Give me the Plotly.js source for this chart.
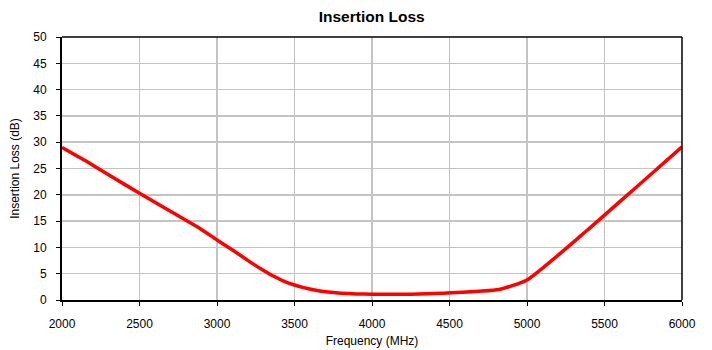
<!DOCTYPE html>
<html>
<head>
<meta charset="utf-8">
<script src="https://cdn.plot.ly/plotly-3.0.1.min.js"></script>
<style>html,body{margin:0;padding:0;background:#fff;}#chart{width:712px;height:350px;}</style>
</head>
<body>
<div id="chart"></div>
<script>
var freqMHz = [2000, 2150, 2300, 2500, 2750, 2890, 3000, 3110, 3210, 3290, 3360, 3430, 3500, 3560, 3620, 3700, 3800, 3900, 4000, 4250, 4450, 4820, 5000, 5390, 5610, 5800, 6000];
var lossDB  = [29.0, 26.5, 23.8, 20.3, 16.0, 13.6, 11.4, 9.3, 7.3, 5.8, 4.6, 3.6, 2.85, 2.35, 1.95, 1.55, 1.3, 1.15, 1.1, 1.1, 1.3, 2.0, 3.8, 13.3, 19.0, 23.9, 29.1];
var xTicks = [2000, 2500, 3000, 3500, 4000, 4500, 5000, 5500, 6000];
var yTicks = [0, 5, 10, 15, 20, 25, 30, 35, 40, 45, 50];

var font = {family: 'Liberation Sans, Arial, sans-serif', color: '#000', size: 12};

var trace = {
  x: freqMHz, y: lossDB, type: 'scatter', mode: 'lines',
  line: {color: '#ff0000', width: 3.5, shape: 'spline', smoothing: 0.5},
  hoverinfo: 'skip'
};

var layout = {
  width: 712, height: 350,
  margin: {l: 62, r: 30, t: 37, b: 50},
  paper_bgcolor: '#fff', plot_bgcolor: '#fff',
  font: font,
  showlegend: false,
  title: {text: '<b>Insertion Loss</b>', font: {family: font.family, size: 15.5, color: '#000'}, x: 0.522, xanchor: 'center', y: 0.953, yanchor: 'middle'},
  xaxis: {
    range: [2000, 6000], tickvals: xTicks, ticktext: xTicks.map(String),
    showgrid: true, gridcolor: '#c4c4c4', gridwidth: 1.5,
    showline: true, linecolor: '#000', linewidth: 2, mirror: false,
    ticks: 'outside', ticklen: 4, tickcolor: '#000', tickwidth: 1,
    ticklabelstandoff: 8,
    tickfont: font, zeroline: false,
    title: {text: 'Frequency (MHz)', font: font, standoff: 6}
  },
  yaxis: {
    range: [0, 50], tickvals: yTicks, ticktext: yTicks.map(String),
    showgrid: true, gridcolor: '#c4c4c4', gridwidth: 1.5,
    showline: true, linecolor: '#000', linewidth: 2, mirror: false,
    ticks: 'outside', ticklen: 4, tickcolor: '#000', tickwidth: 1,
    ticklabelstandoff: 7,
    tickfont: font, zeroline: false,
    title: {text: 'Insertion Loss (dB)', font: font, standoff: 11}
  },
  shapes: [
    {type: 'line', xref: 'paper', yref: 'paper', x0: 0, x1: 1, y0: 1, y1: 1, line: {color: '#000', width: 1.5}},
    {type: 'line', xref: 'paper', yref: 'paper', x0: 1, x1: 1, y0: 0, y1: 1, line: {color: '#000', width: 1.5}}
  ]
};

Plotly.newPlot('chart', [trace], layout, {staticPlot: true, displayModeBar: false});
</script>
</body>
</html>
